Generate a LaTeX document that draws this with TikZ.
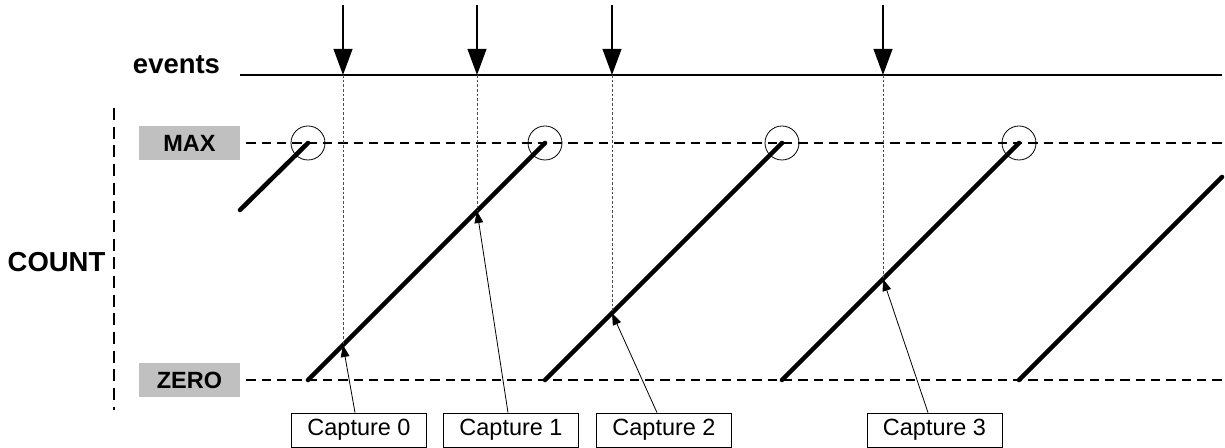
\documentclass[tikz,border=0pt]{standalone}
\usepackage{fontspec}
\setmainfont{Liberation Sans}
\usetikzlibrary{arrows.meta}
\definecolor{lvlgray}{HTML}{C0C0C0}
\begin{document}
\begin{tikzpicture}[x=0.75pt,y=-0.75pt,
  lvl/.style={fill=lvlgray, minimum width=75.75pt, minimum height=25.5pt, inner sep=0pt,
    font=\fontsize{17.6}{20}\selectfont\bfseries},
  capbox/.style={draw, line width=0.6pt, minimum width=101.25pt, minimum height=25.5pt, inner sep=0pt,
    font=\fontsize{17.6}{20}\selectfont},
  biglabel/.style={inner sep=0pt, anchor=base, font=\fontsize{20.6}{24}\selectfont\bfseries},
  lvlline/.style={line width=1.1pt, dash pattern=on 7pt off 4.5pt},
  ramp/.style={line width=3.4pt, line cap=round},
  ovfcircle/.style={draw, circle, line width=0.6pt, minimum size=25.5pt, inner sep=0pt},
  eventarrow/.style={line width=1.5pt, -{Triangle[length=19.5pt,width=14pt]}},
  guide/.style={line width=0.6pt, black!70, dash pattern=on 2pt off 1.5pt},
  capline/.style={line width=0.6pt, -{Triangle[length=9pt,width=6.5pt]}}
]
\useasboundingbox (0,0) rectangle (1225,448);

% axis
\coordinate (axT) at (114,108);
\coordinate (axB) at (114,410);
\draw[line width=1.1pt, dash pattern=on 9pt off 5pt] (axT) -- (axB);
\node[biglabel] (count) at (56.5,272) {COUNT};

% events line
\node[biglabel] (events) at (176.5,74) {events};
\coordinate (evL) at (240,75);
\coordinate (evR) at (1222,75);
\draw[line width=1.1pt] (evL) -- (evR);

% level lines
\coordinate (maxL) at (139,143);
\coordinate (maxR) at (1225,143);
\coordinate (zeroL) at (139,380);
\coordinate (zeroR) at (1225,380);
\draw[lvlline] (maxL) -- (maxR);
\draw[lvlline] (zeroL) -- (zeroR);
\node[lvl] (max) at (189.5,143) {MAX};
\node[lvl] (zero) at (189.5,380) {ZERO};

% ramps
\coordinate (r0a) at (240,210);
\coordinate (r0b) at (308,143);
\coordinate (r1a) at (308,380);
\coordinate (r1b) at (545,143);
\coordinate (r2a) at (545,380);
\coordinate (r2b) at (782,143);
\coordinate (r3a) at (782,380);
\coordinate (r3b) at (1019,143);
\coordinate (r4a) at (1019,380);
\coordinate (r4b) at (1222,177);
\draw[ramp] (r0a) -- (r0b);
\draw[ramp] (r1a) -- (r1b);
\draw[ramp] (r2a) -- (r2b);
\draw[ramp] (r3a) -- (r3b);
\draw[ramp] (r4a) -- (r4b);

% overflow circles
\node[ovfcircle] (o0) at (r0b) {};
\node[ovfcircle] (o1) at (r1b) {};
\node[ovfcircle] (o2) at (r2b) {};
\node[ovfcircle] (o3) at (r3b) {};

% events
\foreach \i/\x/\y in {0/343/345, 1/477/211, 2/612/313, 3/883/279}{
  \coordinate (s\i) at (\x,5);
  \coordinate (e\i) at (\x,75);
  \coordinate (p\i) at (\x,\y);
  \draw[guide] (e\i) -- (p\i);
  \draw[eventarrow] (s\i) -- (e\i);
}

% capture boxes
\node[capbox] (c0) at (359,430) {Capture 0};
\node[capbox] (c1) at (511,430) {Capture 1};
\node[capbox] (c2) at (664,430) {Capture 2};
\node[capbox] (c3) at (934.5,430) {Capture 3};
\draw[capline] (c0.north -| 355,0) -- (p0);
\draw[capline] (c1.north -| 508,0) -- (p1);
\draw[capline] (c2.north -| 657,0) -- (p2);
\draw[capline] (c3.north -| 928,0) -- (p3);
\end{tikzpicture}
\end{document}
